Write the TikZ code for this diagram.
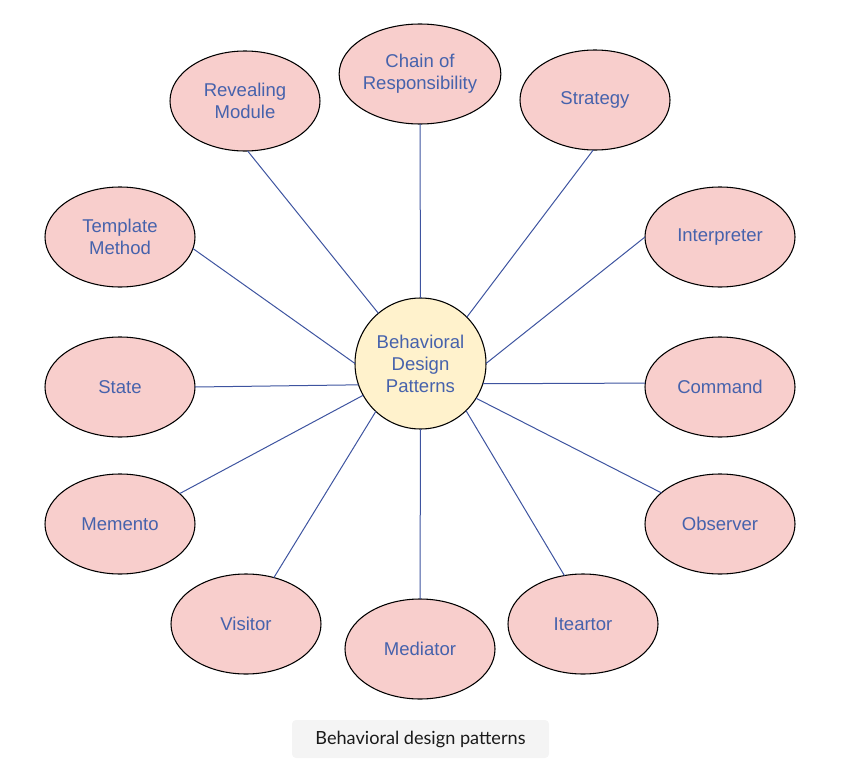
\documentclass[tikz,border=0pt]{standalone}
\usepackage{fontspec}
\setmainfont{Liberation Sans}
\newfontfamily\capfont{Lato}
\usetikzlibrary{shapes.geometric}
\definecolor{pinkfill}{HTML}{F8CECC}
\definecolor{yellowfill}{HTML}{FFF2CC}
\definecolor{txtblue}{RGB}{70,98,172}
\definecolor{linkblue}{RGB}{62,84,160}
\definecolor{capgray}{HTML}{F4F4F4}
\definecolor{capink}{HTML}{1A1A1A}
\begin{document}
\begin{tikzpicture}[x=0.75pt,y=-0.75pt,
  patternnode/.style={ellipse, draw=black, line width=0.8pt, fill=pinkfill,
    minimum width=112.5pt, minimum height=75pt, inner sep=0pt, outer sep=0pt,
    text=txtblue, font=\fontsize{13.9}{16.5}\selectfont, align=center},
  hubnode/.style={circle, draw=black, line width=0.8pt, fill=yellowfill,
    minimum size=98.25pt, inner sep=0pt, outer sep=0pt,
    text=txtblue, font=\fontsize{13.9}{16.5}\selectfont, align=center},
  link/.style={draw=linkblue, line width=0.75pt},
  capbox/.style={draw=none, fill=capgray, rounded corners=3pt,
    minimum width=192.75pt, minimum height=28.5pt, inner sep=0pt,
    text=capink, font=\capfont\fontsize{13.6}{15}\selectfont}]
\useasboundingbox (0,0) rectangle (847,778);

\node[hubnode] (c) at (420.5,363.5) {Behavioral\\Design\\Patterns};

\node[patternnode] (cor) at (420,74) {Chain of\\Responsibility};
\node[patternnode] (rm) at (245,101) {Revealing\\Module};
\node[patternnode] (st) at (595,100) {Strategy};
\node[patternnode] (tm) at (120,237) {Template\\Method};
\node[patternnode] (ip) at (720,237) {Interpreter};
\node[patternnode] (sta) at (120,387) {State};
\node[patternnode] (cmd) at (720,387) {Command};
\node[patternnode] (mem) at (120,524) {Memento};
\node[patternnode] (obs) at (720,524) {Observer};
\node[patternnode] (vis) at (246,624) {Visitor};
\node[patternnode] (med) at (420,649) {Mediator};
\node[patternnode] (it) at (583,624) {Iteartor};

\draw[link] (cor.south) -- (c.90);
\draw[link] (rm.-87.7) -- (c.130.1);
\draw[link] (st.-92.3) -- (c.45);
\draw[link] (tm.-9) -- (c.180);
\draw[link] (ip.west) -- (c.0);
\draw[link] (sta.east) -- (c.199.5);
\draw[link] (cmd.177.7) -- (c.-18.2);
\draw[link] (mem.27.3) -- (c.209);
\draw[link] (obs.152.7) -- (c.-32.9);
\draw[link] (vis.59.2) -- (c.-133.8);
\draw[link] (med.north) -- (c.-90);
\draw[link] (it.111) -- (c.-46.2);

\node[capbox] (cap) at (420.5,739) {Behavioral design patterns};
\end{tikzpicture}
\end{document}
